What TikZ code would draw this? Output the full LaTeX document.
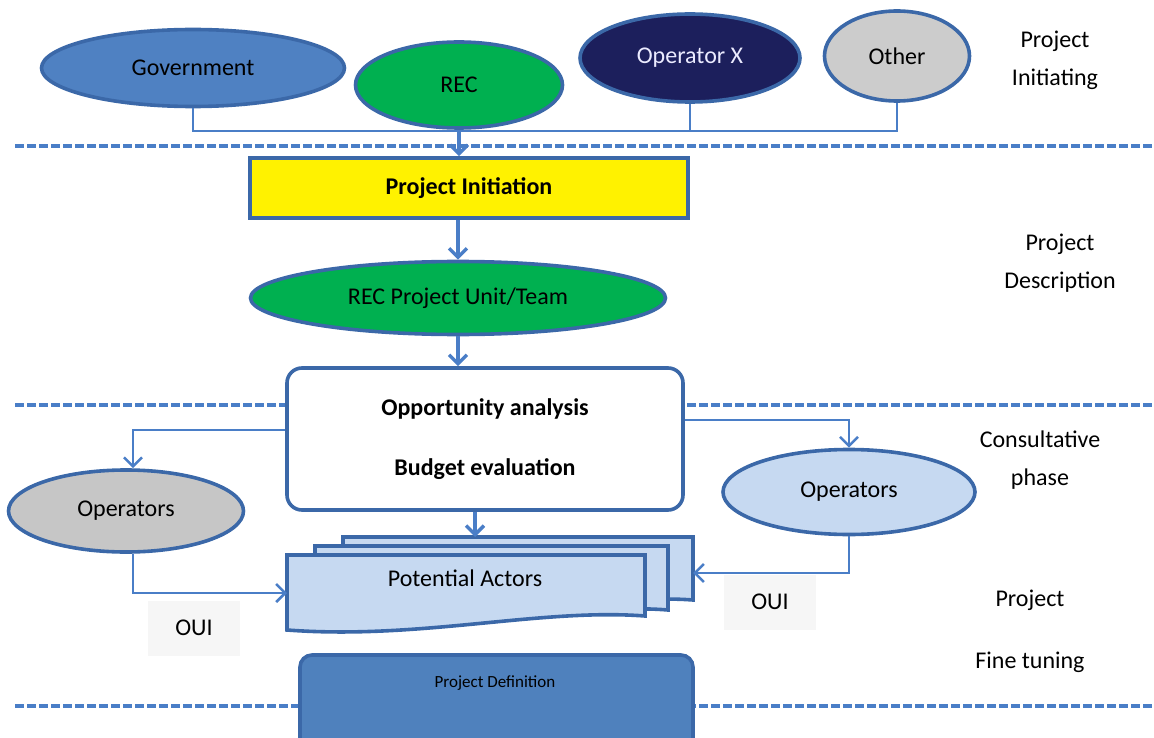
\documentclass[tikz,border=0pt]{standalone}
\usepackage{fontspec}
\setmainfont{Carlito}
\usetikzlibrary{shapes.geometric,arrows.meta}

\definecolor{edgeblue}{HTML}{3B68A8}
\definecolor{lineblue}{HTML}{4A7EC7}
\definecolor{govblue}{HTML}{4F81C2}
\definecolor{recgreen}{HTML}{00B050}
\definecolor{navy}{HTML}{1C1F5C}
\definecolor{paleblue}{HTML}{C6D9F1}
\definecolor{defblue}{HTML}{4F81BD}
\definecolor{inityellow}{HTML}{FFF200}

\tikzset{
    actor/.style={ellipse, draw=edgeblue, line width=3.6pt, inner sep=0pt,
        font=\fontsize{24}{28}\selectfont},
    flow/.style={draw=lineblue, line width=3.4pt, -{Straight Barb[length=9pt,width=18pt]}},
    link/.style={draw=lineblue, line width=2pt},
    linkarrow/.style={link, -{Straight Barb[length=9pt,width=18pt,line width=2.6pt]}},
    phase/.style={align=center, font=\fontsize{24}{38}\selectfont},
    ouibox/.style={fill=gray!7, minimum width=92pt, minimum height=55pt,
        font=\fontsize{24}{28}\selectfont},
    doc/.style={draw=edgeblue, line width=3.6pt, fill=paleblue}
}

\begin{document}
\begin{tikzpicture}[x=1pt,y=-1pt] % pixel grid, y going down

        % Page size
        \def\pagew{1154}
        \def\pageh{738}
        \useasboundingbox (0,0) rectangle (\pagew,\pageh);

        % Phase separators
        \foreach \y in {146, 405, 706} {
            \draw[lineblue, line width=3.4pt, dash pattern=on 9pt off 3pt] (15,\y) -- (\pagew,\y);
        }

        % Initiators (Top Section)
        \node[actor, fill=govblue, minimum width=303pt, minimum height=77pt] (gov) at (193,68) {Government};
        \node[actor, fill=recgreen, minimum width=207pt, minimum height=86pt] (rec) at (459,85) {REC};
        \node[actor, fill=navy, text=blue!8, minimum width=220pt, minimum height=88pt] (opx) at (690,58) {Operator X};
        \node[actor, fill=gray!40, minimum width=145pt, minimum height=90pt] (other) at (897,56) {Other};

        % Bus line under the initiators
        \coordinate (bus) at (0,131);
        \draw[link] (gov.south) |- (other.south |- bus) -- (other.south);
        \draw[link] (opx.south) -- (opx.south |- bus);

        % Project Initiation (Yellow Box)
        \node[draw=edgeblue, line width=3.6pt, fill=inityellow, minimum width=438pt, minimum height=60pt,
            font=\bfseries\fontsize{24}{28}\selectfont] (init) at (469,188) {Project Initiation};
        \draw[flow] (rec.south) -- (rec.south |- init.north);

        % REC Project Unit
        \node[actor, fill=recgreen, minimum width=415pt, minimum height=73pt] (team) at (458,298) {REC Project Unit/Team};
        \draw[flow] (team.south |- init.south) -- (team.north);

        % Analysis Box (Middle Section)
        \node[draw=edgeblue, line width=3.6pt, fill=white, rounded corners=15pt, minimum width=396pt,
            minimum height=142pt, align=center, font=\bfseries\fontsize{24}{60}\selectfont]
            (opp) at (485,439) {Opportunity analysis\\Budget evaluation};
        \draw[flow] (team.south) -- (team.south |- opp.north);

        % Operators on both sides
        \node[actor, fill=gray!45, minimum width=235pt, minimum height=82pt] (opsL) at (126,511) {Operators};
        \node[actor, fill=paleblue, minimum width=252pt, minimum height=85pt] (opsR) at (849,492) {Operators};
        \draw[linkarrow] ([yshift=9pt]opp.west) -| ([xshift=7pt]opsL.north);
        \draw[linkarrow] ([yshift=19pt]opp.east) -| (opsR.north);

        % Potential Actors (stacked documents)
        \draw[doc] (343,537) -- (693,537) -- (693,600)
            .. controls (640,596) and (600,606) .. (520,610) -- (343,610) -- cycle;
        \draw[doc] (315,546) -- (668,546) -- (668,610)
            .. controls (620,606) and (580,614) .. (500,620) -- (315,620) -- cycle;
        \draw[doc] (287,555) -- (645,555) -- (645,616)
            .. controls (540,608) and (420,640) .. (287,630) -- cycle;
        \node[font=\fontsize{24}{28}\selectfont] (actors) at (465,578) {Potential Actors};
        \coordinate (backtop) at (475,537);
        \coordinate (frontleft) at (287,593);
        \coordinate (backright) at (693,573);
        \draw[flow] ([xshift=-10pt]opp.south) -- ([xshift=-10pt]opp.south |- backtop);
        \draw[linkarrow] ([xshift=7pt]opsL.south) |- (frontleft);
        \draw[linkarrow] (opsR.south) |- (backright);

        % OUI labels
        \node[ouibox] (ouiL) at (194,628) {OUI};
        \node[ouibox] (ouiR) at (770,602) {OUI};

        % Project Definition (Bottom Section)
        \draw[edgeblue, line width=3.6pt, fill=defblue, rounded corners=12pt] (300,655) rectangle (693,760);
        \node[font=\fontsize{17}{20}\selectfont] (def) at (495,683) {Project Definition};

        % Phase names (Right Column)
        \node[phase] (p1) at (1055,60) {Project\\Initiating};
        \node[phase] (p2) at (1060,263) {Project\\Description};
        \node[phase] (p3) at (1040,460) {Consultative\\phase};
        \node[phase, font=\fontsize{24}{62}\selectfont] (p4) at (1030,631) {Project\\Fine tuning};

    \end{tikzpicture}
\end{document}
